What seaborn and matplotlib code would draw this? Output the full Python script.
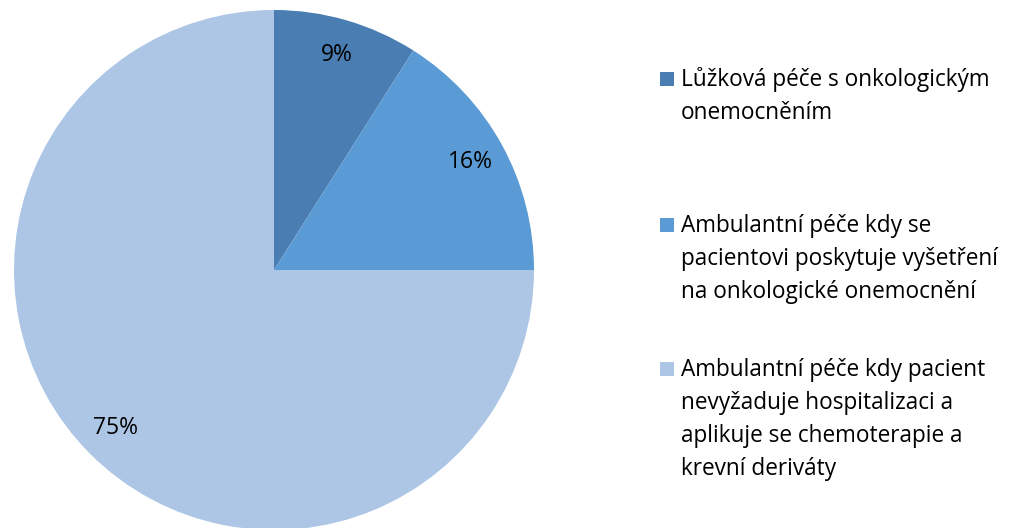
import matplotlib
matplotlib.use("Agg")
import matplotlib.pyplot as plt
import seaborn as sns
from matplotlib.patches import Rectangle

sns.set_theme(style="white")
plt.rcParams['font.family'] = ['Open Sans', 'DejaVu Sans']

# data
categories = [
    "Lůžková péče s onkologickým\nonemocněním",
    "Ambulantní péče kdy se\npacientovi poskytuje vyšetření\nna onkologické onemocnění",
    "Ambulantní péče kdy pacient\nnevyžaduje hospitalizaci a\naplikuje se chemoterapie a\nkrevní deriváty",
]
shares = [9, 16, 75]
colors = ["#4A7EB2", "#5B9BD5", "#ADC6E6"]

W, H = 1017, 528
fig = plt.figure(figsize=(W / 100, H / 100), dpi=100)
fig.patch.set_facecolor("white")

# pie axes: centre (274, 270) px, radius 260 px
cx, cy, r = 274, 270, 260
ax = fig.add_axes([(cx - r) / W, (H - cy - r) / H, 2 * r / W, 2 * r / H])
wedges, _, autotexts = ax.pie(
    shares,
    colors=colors,
    startangle=90,
    counterclock=False,
    autopct=lambda p: f"{p:.0f}%",
    pctdistance=0.86,
    wedgeprops=dict(linewidth=0),
    textprops=dict(fontsize=16.5, color="black"),
)
ax.set_aspect("equal")
ax.set_xlim(-1, 1)
ax.set_ylim(-1, 1)
ax.axis("off")

# legend, drawn by hand so the marker sits on the first line
baselines = [86, 232, 376]
line_gap = 33
for label, col, base in zip(categories, colors, baselines):
    fig.patches.append(Rectangle((660 / W, (H - base) / H), 14 / W, 14 / H,
                                 transform=fig.transFigure, facecolor=col,
                                 edgecolor="none"))
    for i, line in enumerate(label.split("\n")):
        fig.text(681 / W, (H - base - i * line_gap) / H, line,
                 fontsize=16.3, va="baseline", ha="left", color="black")

fig.savefig("out.png", dpi=100)
